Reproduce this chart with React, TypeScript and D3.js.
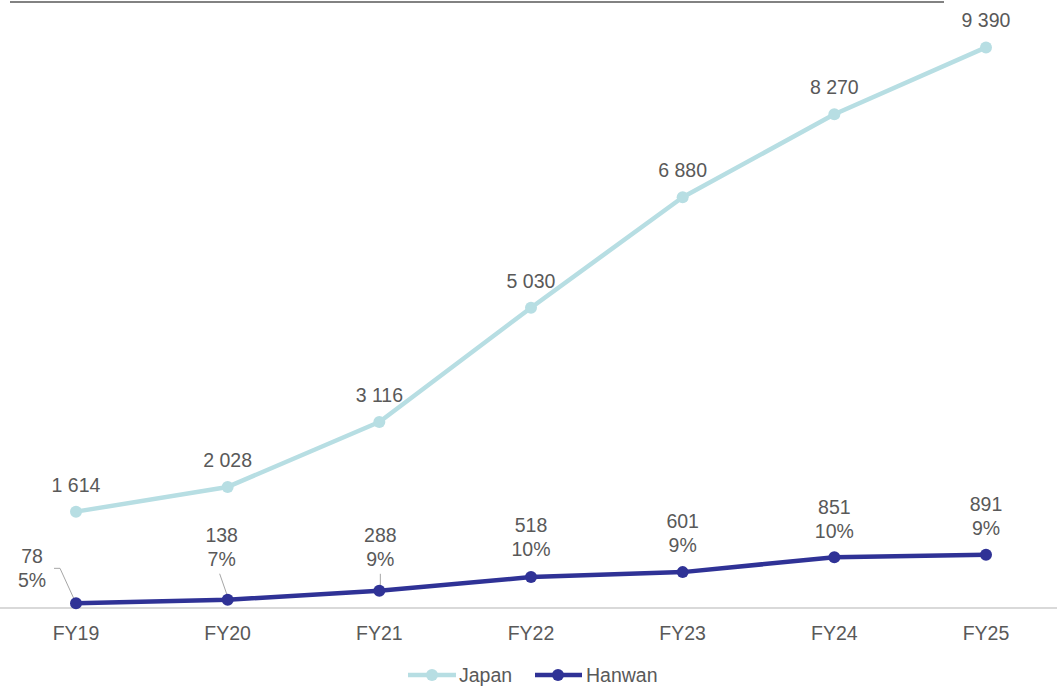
import React from "react";
import * as d3 from "d3";

const categories = ["FY19", "FY20", "FY21", "FY22", "FY23", "FY24", "FY25"];
const japan = [1614, 2028, 3116, 5030, 6880, 8270, 9390];
const hanwan = [78, 138, 288, 518, 601, 851, 891];
const hanwanPct = ["5%", "7%", "9%", "10%", "9%", "10%", "9%"];

// label placement (dx, dy of first line relative to point; leader line)
const hanwanLabelOffsets = [
  { dx: -44, dy: -47, leader: [[-22, -35], [-16, -35], [0, 0]] },
  { dx: -6, dy: -65, leader: [[-8, -26], [0, -3]] },
  { dx: 1, dy: -56, leader: [[1, -17], [1, -3]] },
  { dx: 0, dy: -52, leader: null },
  { dx: 0, dy: -51, leader: null },
  { dx: 0, dy: -50, leader: null },
  { dx: 0, dy: -51, leader: null },
];

const W = 1057;
const H = 691;
const JAPAN_COLOR = "#B7DEE3";
const HANWAN_COLOR = "#2F3296";
const TEXT = "#595959";
const FONT = "'Liberation Sans', Arial, sans-serif";

const fmt = (v: number) => d3.format(",")(v).replace(/,/g, " ");

export default function App() {
  const x = d3.scalePoint<string>().domain(categories).range([76, 986]);
  const y = d3.scaleLinear().domain([0, 10000]).range([608, 11]);

  const line = d3
    .line<number>()
    .x((_, i) => x(categories[i])!)
    .y((d) => y(d));

  return (
    <svg
      width={W}
      height={H}
      style={{ position: "absolute", left: 0, top: 0, background: "#fff" }}
      fontFamily={FONT}
    >
      {/* top rule */}
      <line x1={10} x2={944} y1={2} y2={2} stroke="#595959" strokeWidth={1.5} />
      {/* axis */}
      <line x1={0} x2={W} y1={y(0)} y2={y(0)} stroke="#D9D9D9" strokeWidth={2} />
      {categories.map((c) => (
        <text
          key={c}
          x={x(c)}
          y={633}
          textAnchor="middle"
          dominantBaseline="central"
          fontSize={19.5}
          fill={TEXT}
        >
          {c}
        </text>
      ))}

      {/* Japan */}
      <path d={line(japan)!} fill="none" stroke={JAPAN_COLOR} strokeWidth={4.5} strokeLinejoin="round" />
      {japan.map((v, i) => (
        <g key={"j" + i}>
          <circle cx={x(categories[i])} cy={y(v)} r={6} fill={JAPAN_COLOR} />
          <text
            x={x(categories[i])}
            y={y(v) - 27}
            textAnchor="middle"
            dominantBaseline="central"
            fontSize={19.5}
            fill={TEXT}
          >
            {fmt(v)}
          </text>
        </g>
      ))}

      {/* Hanwan */}
      <path d={line(hanwan)!} fill="none" stroke={HANWAN_COLOR} strokeWidth={4.5} strokeLinejoin="round" />
      {hanwan.map((v, i) => {
        const cx = x(categories[i])!;
        const cy = y(v);
        const o = hanwanLabelOffsets[i];
        return (
          <g key={"h" + i}>
            {o.leader && (
              <polyline
                points={o.leader.map((p) => `${cx + p[0]},${cy + p[1]}`).join(" ")}
                fill="none"
                stroke="#A6A6A6"
                strokeWidth={1}
              />
            )}
            <circle cx={cx} cy={cy} r={6} fill={HANWAN_COLOR} />
            <text
              x={cx + o.dx}
              y={cy + o.dy}
              textAnchor="middle"
              dominantBaseline="central"
              fontSize={19.5}
              fill={TEXT}
            >
              {fmt(v)}
            </text>
            <text
              x={cx + o.dx}
              y={cy + o.dy + 24}
              textAnchor="middle"
              dominantBaseline="central"
              fontSize={19.5}
              fill={TEXT}
            >
              {hanwanPct[i]}
            </text>
          </g>
        );
      })}

      {/* legend */}
      <g>
        <line x1={408} x2={456} y1={675} y2={675} stroke={JAPAN_COLOR} strokeWidth={4.5} />
        <circle cx={432} cy={675} r={6} fill={JAPAN_COLOR} />
        <text x={459} y={675} dominantBaseline="central" fontSize={19.5} fill={TEXT}>
          Japan
        </text>
        <line x1={535} x2={582} y1={675} y2={675} stroke={HANWAN_COLOR} strokeWidth={4.5} />
        <circle cx={558} cy={675} r={6} fill={HANWAN_COLOR} />
        <text x={586} y={675} dominantBaseline="central" fontSize={19.5} fill={TEXT}>
          Hanwan
        </text>
      </g>
    </svg>
  );
}
